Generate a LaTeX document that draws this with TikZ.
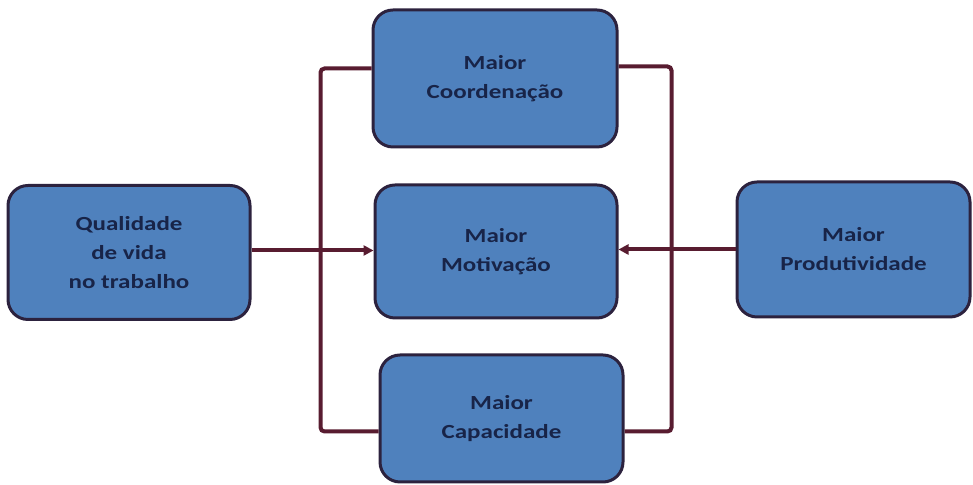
\documentclass[tikz,border=0pt]{standalone}
\usepackage{fontspec}
\setmainfont{Carlito}[FakeStretch=1.25]
\usepackage{xcolor}
\definecolor{boxblue}{RGB}{79, 129, 189}
\definecolor{boxframe}{RGB}{44, 34, 62}
\definecolor{textnavy}{RGB}{24, 36, 72}
\definecolor{linkred}{RGB}{88, 28, 48}
\usepackage{tikz}
\usetikzlibrary{
    arrows.meta,
    positioning,
    calc
}
\tikzstyle{box} = [
    rectangle,
    rounded corners=10pt,
    draw=boxframe,
    line width=1.5pt,
    fill=boxblue,
    text=textnavy,
    align=center,
    minimum height=67pt,
    minimum width=121pt,
    font=\bfseries\fontsize{10}{14.5}\selectfont
]
\tikzstyle{arrow} = [
    -{Triangle[length=5pt,width=5pt]},
    draw=linkred,
    line width=2pt
]
\tikzstyle{link} = [
    draw=linkred,
    line width=2pt,
    rounded corners=2pt
]

\begin{document}
\begin{tikzpicture}[x=0.5pt, y=0.5pt]
    \useasboundingbox (0,0) rectangle (973,485);

    % Boxes
    \node[box] (qvt) at (129,232.5) {Qualidade\\de vida\\no trabalho};
    \node[box, minimum width=122pt, minimum height=68.5pt] (coord) at (495,406.5) {Maior\\Coordenação};
    \node[box, minimum height=66.5pt] (motiv) at (496,233.5) {Maior\\Motivação};
    \node[box, minimum width=121.5pt, minimum height=63.5pt] (capac) at (501.5,66.5) {Maior\\Capacidade};
    \node[box, minimum width=116.5pt, minimum height=67.5pt] (produt) at (853.5,235.5) {Maior\\Produtividade};

    % Brackets between top and bottom boxes
    \draw[link] ([yshift=5pt]coord.west) -- ++(-51,0) |- ([yshift=-6.5pt]capac.west);
    \draw[link] ([yshift=6pt]coord.east) -- ++(53,0) |- ([yshift=-6.5pt]capac.east);

    % Arrows into the middle box
    \draw[arrow] ([yshift=1pt]qvt.east) -- ([yshift=1pt]qvt.east -| motiv.west);
    \draw[arrow] (produt.west) -- (produt.west -| motiv.east);

\end{tikzpicture}
\end{document}
